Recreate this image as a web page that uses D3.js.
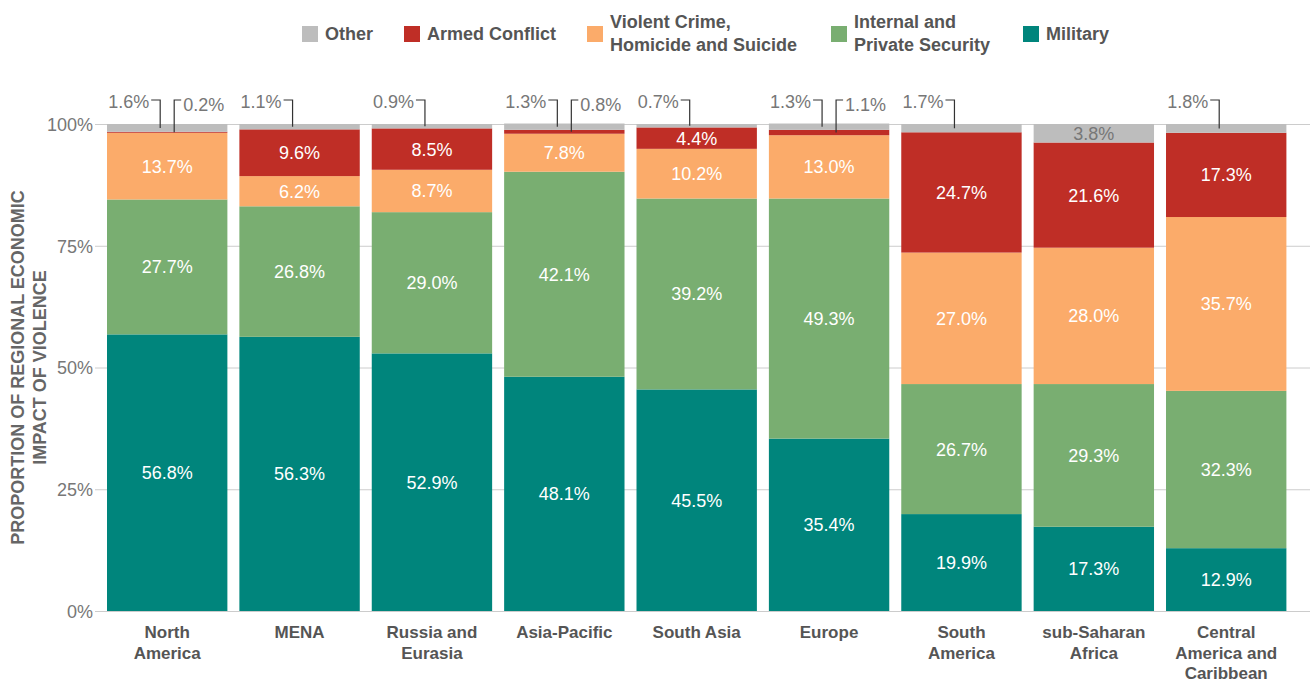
<!DOCTYPE html>
<html>
<head>
<meta charset="utf-8">
<script src="https://cdn.jsdelivr.net/npm/d3@7"></script>
<style>
  body { margin: 0; background: #fff; }
  svg { font-family: "Liberation Sans", Arial, Helvetica, sans-serif; display: block; }
  .tick text { fill: #777; font-size: 18px; }
  .seg-label { fill: #fff; font-size: 18px; }
  .call-label { fill: #777; font-size: 18px; }
  .cat-label { fill: #555; font-size: 17px; font-weight: bold; }
  .legend text { fill: #555; font-size: 18px; font-weight: bold; }
</style>
</head>
<body>
<div id="chart"></div>
<script>
// Regions (x axis), each possibly split across lines
const regions = [
  ["North", "America"],
  ["MENA"],
  ["Russia and", "Eurasia"],
  ["Asia-Pacific"],
  ["South Asia"],
  ["Europe"],
  ["South", "America"],
  ["sub-Saharan", "Africa"],
  ["Central", "America and", "Caribbean"]
];

// Series values (percent), stacked bottom to top
const military = [56.8, 56.3, 52.9, 48.1, 45.5, 35.4, 19.9, 17.3, 12.9];
const internalSecurity = [27.7, 26.8, 29.0, 42.1, 39.2, 49.3, 26.7, 29.3, 32.3];
const violentCrime = [13.7, 6.2, 8.7, 7.8, 10.2, 13.0, 27.0, 28.0, 35.7];
const armedConflict = [0.2, 9.6, 8.5, 0.8, 4.4, 1.1, 24.7, 21.6, 17.3];
const other = [1.6, 1.1, 0.9, 1.3, 0.7, 1.3, 1.7, 3.8, 1.8];

const yTicks = [0, 25, 50, 75, 100];

const series = [
  { key: "military", name: ["Military"], values: military, color: "#00857c" },
  { key: "internal", name: ["Internal and", "Private Security"], values: internalSecurity, color: "#79ae71" },
  { key: "violent", name: ["Violent Crime,", "Homicide and Suicide"], values: violentCrime, color: "#fbab6a" },
  { key: "armed", name: ["Armed Conflict"], values: armedConflict, color: "#bf2e26" },
  { key: "other", name: ["Other"], values: other, color: "#bdbdbd" }
];

const width = 1312, height = 684;
const margin = { top: 124, right: 26, bottom: 73, left: 107 };

const svg = d3.select("#chart").append("svg")
  .attr("width", width)
  .attr("height", height);

// Build a table for d3.stack
const table = regions.map((r, i) => {
  const row = { idx: i };
  series.forEach(s => { row[s.key] = s.values[i]; });
  return row;
});

const stack = d3.stack().keys(series.map(s => s.key));
const stacked = stack(table);

const x = d3.scaleBand()
  .domain(d3.range(regions.length))
  .range([margin.left, 1286.4])
  .paddingInner(0.0906)
  .paddingOuter(0);

const y = d3.scaleLinear()
  .domain([0, 100])
  .range([height - margin.bottom, margin.top]);

// Grid lines + y axis
const yAxis = svg.append("g")
  .attr("class", "y axis")
  .attr("transform", "translate(" + 95 + ",0)")
  .call(d3.axisLeft(y).tickValues(yTicks).tickSize(0).tickPadding(2).tickFormat(d => d + "%"));
yAxis.select(".domain").remove();
yAxis.selectAll(".tick line")
  .attr("x1", 0)
  .attr("x2", 1310 - 95)
  .attr("stroke", "#cccccc")
  .attr("stroke-width", 1);
yAxis.selectAll(".tick text").attr("dy", "0.35em");

// Axis title
svg.append("text")
  .attr("transform", "translate(24," + y(50) + ") rotate(-90)")
  .attr("text-anchor", "middle")
  .style("font-size", "18px")
  .style("font-weight", "bold")
  .style("fill", "#666")
  .selectAll("tspan")
  .data(["PROPORTION OF REGIONAL ECONOMIC", "IMPACT OF VIOLENCE"])
  .enter()
  .append("tspan")
  .attr("x", 0)
  .attr("dy", (d, i) => i === 0 ? "0" : "1.2em")
  .text(d => d);

// Bars
const layers = svg.append("g").attr("class", "bars")
  .selectAll("g")
  .data(stacked)
  .enter()
  .append("g")
  .attr("fill", (d, i) => series[i].color);

layers.selectAll("rect")
  .data(d => d)
  .enter()
  .append("rect")
  .attr("x", (d, i) => x(i))
  .attr("width", x.bandwidth())
  .attr("y", d => y(d[1]))
  .attr("height", d => y(d[0]) - y(d[1]));

// Labels inside big segments
const fmt = v => v.toFixed(1) + "%";
const labels = svg.append("g").attr("class", "labels");
stacked.forEach((layer, si) => {
  layer.forEach((d, i) => {
    const v = series[si].values[i];
    if (v < 3) return;
    labels.append("text")
      .attr("class", "seg-label")
      .attr("x", x(i) + x.bandwidth() / 2)
      .attr("y", y((d[0] + d[1]) / 2))
      .attr("dy", "0.36em")
      .attr("text-anchor", "middle")
      .style("fill", series[si].key === "other" ? "#777" : "#fff")
      .text(fmt(v));
  });
});

// Callouts for thin segments at the top (Other on the left, Armed Conflict on the right)
const callY = 100;
const callouts = svg.append("g").attr("class", "callouts");
const otherLayer = stacked[4];
const armedLayer = stacked[3];
regions.forEach((r, i) => {
  const cx = x(i) + x.bandwidth() / 2;
  if (other[i] < 3) {
    const lx = cx - 7;
    const ly = y((otherLayer[i][0] + otherLayer[i][1]) / 2);
    callouts.append("path")
      .attr("d", "M" + (lx - 9) + "," + callY + "H" + lx + "V" + ly)
      .attr("fill", "none").attr("stroke", "#333").attr("stroke-width", 1.2);
    callouts.append("text")
      .attr("class", "call-label")
      .attr("x", lx - 11)
      .attr("y", callY + 2)
      .attr("dy", "0.36em")
      .attr("text-anchor", "end")
      .text(fmt(other[i]));
  }
  if (armedConflict[i] < 3) {
    const lx = cx + 7;
    const ly = y((armedLayer[i][0] + armedLayer[i][1]) / 2);
    callouts.append("path")
      .attr("d", "M" + (lx + 7) + "," + callY + "H" + lx + "V" + ly)
      .attr("fill", "none").attr("stroke", "#333").attr("stroke-width", 1.2);
    callouts.append("text")
      .attr("class", "call-label")
      .attr("x", lx + 9)
      .attr("y", callY + 5)
      .attr("dy", "0.36em")
      .attr("text-anchor", "start")
      .text(fmt(armedConflict[i]));
  }
});

// Category labels
const cats = svg.append("g").attr("class", "cats");
regions.forEach((lines, i) => {
  const t = cats.append("text")
    .attr("class", "cat-label")
    .attr("text-anchor", "middle")
    .attr("x", x(i) + x.bandwidth() / 2)
    .attr("y", 638);
  lines.forEach((ln, j) => {
    t.append("tspan")
      .attr("x", x(i) + x.bandwidth() / 2)
      .attr("dy", j === 0 ? 0 : 20.5)
      .text(ln);
  });
});

// Legend
const legendItems = [
  { s: series[4], x: 302 },
  { s: series[3], x: 404 },
  { s: series[2], x: 587 },
  { s: series[1], x: 831 },
  { s: series[0], x: 1023 }
];
const legend = svg.append("g").attr("class", "legend");
legendItems.forEach(item => {
  legend.append("rect")
    .attr("x", item.x)
    .attr("y", 26)
    .attr("width", 16)
    .attr("height", 16)
    .attr("fill", item.s.color);
  const t = legend.append("text").attr("x", item.x + 23);
  if (item.s.name.length === 1) {
    t.attr("y", 40).text(item.s.name[0]);
  } else {
    item.s.name.forEach((ln, j) => {
      t.append("tspan")
        .attr("x", item.x + 23)
        .attr("y", 28 + j * 23)
        .text(ln);
    });
  }
});
</script>
</body>
</html>
